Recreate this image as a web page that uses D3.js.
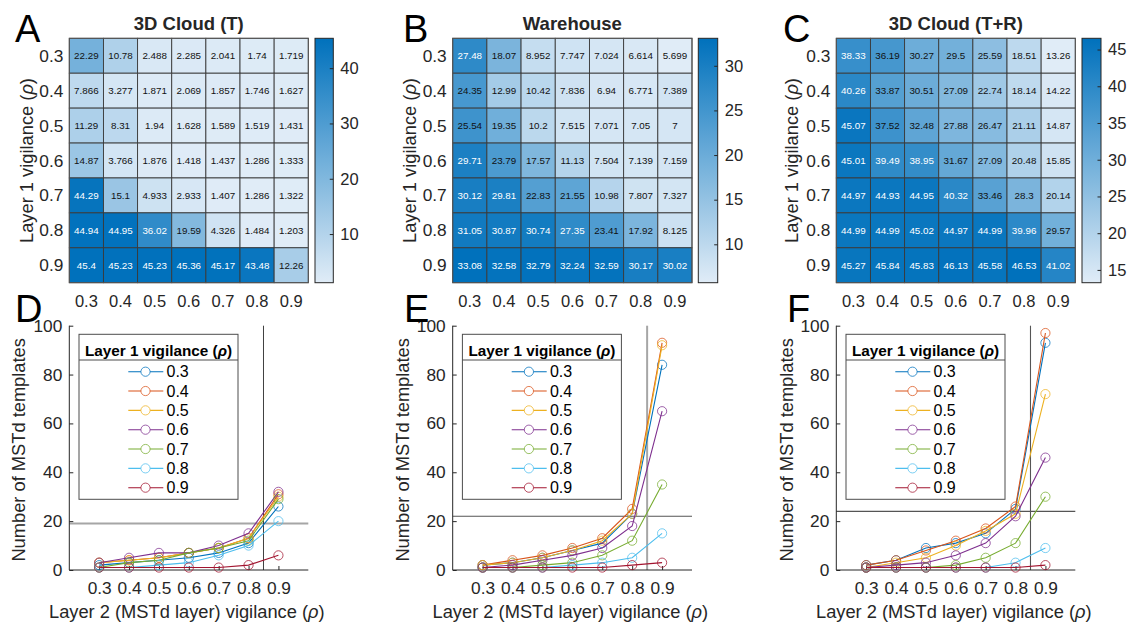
<!DOCTYPE html>
<html>
<head>
<meta charset="utf-8">
<script src="https://cdn.jsdelivr.net/npm/d3@7"></script>
<style>
  html, body { margin: 0; padding: 0; background: #fff; }
  svg { display: block; font-family: "Liberation Sans", Arial, Helvetica, sans-serif; }
</style>
</head>
<body>
<svg id="chart" width="1128" height="623"></svg>
<script>
// ---------------- DATA ----------------
const vigilance = ["0.3", "0.4", "0.5", "0.6", "0.7", "0.8", "0.9"];
const vigilanceNum = [0.3, 0.4, 0.5, 0.6, 0.7, 0.8, 0.9];

const cloudT = [
  [22.29, 10.78, 2.488, 2.285, 2.041, 1.74, 1.719],
  [7.866, 3.277, 1.871, 2.069, 1.857, 1.746, 1.627],
  [11.29, 8.31, 1.94, 1.628, 1.589, 1.519, 1.431],
  [14.87, 3.766, 1.876, 1.418, 1.437, 1.286, 1.333],
  [44.29, 15.1, 4.933, 2.933, 1.407, 1.286, 1.322],
  [44.94, 44.95, 36.02, 19.59, 4.326, 1.484, 1.203],
  [45.4, 45.23, 45.23, 45.36, 45.17, 43.48, 12.26]
];
const warehouse = [
  [27.48, 18.07, 8.952, 7.747, 7.024, 6.614, 5.699],
  [24.35, 12.99, 10.42, 7.836, 6.94, 6.771, 7.389],
  [25.54, 19.35, 10.2, 7.515, 7.071, 7.05, 7],
  [29.71, 23.79, 17.57, 11.13, 7.504, 7.139, 7.159],
  [30.12, 29.81, 22.83, 21.55, 10.98, 7.807, 7.327],
  [31.05, 30.87, 30.74, 27.35, 23.41, 17.92, 8.125],
  [33.08, 32.58, 32.79, 32.24, 32.59, 30.17, 30.02]
];
const cloudTR = [
  [38.33, 36.19, 30.27, 29.5, 25.59, 18.51, 13.26],
  [40.26, 33.87, 30.51, 27.09, 22.74, 18.14, 14.22],
  [45.07, 37.52, 32.48, 27.88, 26.47, 21.11, 14.87],
  [45.01, 39.49, 38.95, 31.67, 27.09, 20.48, 15.85],
  [44.97, 44.93, 44.95, 40.32, 33.46, 28.3, 20.14],
  [44.99, 44.99, 45.02, 44.97, 44.99, 39.96, 29.57],
  [45.27, 45.84, 45.83, 46.13, 45.58, 46.53, 41.02]
];
const cbTicksA = [10, 20, 30, 40];
const cbTicksB = [10, 15, 20, 25, 30];
const cbTicksC = [15, 20, 25, 30, 35, 40, 45];

// Number of MSTd templates; one series per Layer 1 vigilance, x = Layer 2 vigilance
const templatesD = [
  [2, 3, 4, 5, 7, 11, 26],
  [3, 4, 5, 7, 9, 13, 31],
  [3, 4, 5, 7, 9, 13, 30],
  [3, 5, 7, 7, 10, 15, 32],
  [1, 3, 4, 7, 9, 12, 29],
  [1, 1, 2, 3, 6, 10, 20],
  [1, 1, 1, 1, 1, 2, 6]
];
const templatesE = [
  [2, 3, 5, 8, 11, 23, 84],
  [2, 4, 6, 9, 13, 25, 93],
  [2, 3, 5, 8, 12, 23, 92],
  [1, 2, 4, 6, 9, 18, 65],
  [1, 1, 2, 3, 6, 12, 35],
  [1, 1, 1, 2, 3, 5, 15],
  [1, 1, 1, 1, 1, 2, 3]
];
const templatesF = [
  [2, 4, 9, 11, 15, 25, 93],
  [2, 4, 8, 12, 17, 26, 97],
  [1, 3, 5, 10, 16, 23, 72],
  [1, 2, 3, 6, 11, 22, 46],
  [1, 1, 1, 2, 5, 11, 30],
  [1, 1, 1, 1, 1, 3, 9],
  [1, 1, 1, 1, 1, 1, 2]
];
const refLinesD = { x: 0.85, y: 19 };
const refLinesE = { x: 0.85, y: 22 };
const refLinesF = { x: 0.85, y: 24 };
const yTicksLine = [0, 20, 40, 60, 80, 100];
const seriesColors = ["#0072BD", "#D95319", "#EDB120", "#7E2F8E", "#77AC30", "#4DBEEE", "#A2142F"];

// ---------------- DRAW ----------------
const svg = d3.select("#chart");
const FONT = '"Liberation Sans", Arial, Helvetica, sans-serif';
const colLow = d3.rgb(224, 236, 247), colHigh = d3.rgb(0, 113, 188);
const interp = d3.interpolateRgb(colLow, colHigh);

function rhoLabel(sel, pre, bold) {
  sel.append("tspan").text(pre);
  sel.append("tspan").attr("font-style", "italic").text("ρ");
  sel.append("tspan").text(")");
}

function heatmap(opt) {
  const { data, x0, x1, cbx0, cbx1, title, letter, letterX, ylabX, cbTicks } = opt;
  const top = 38.3, bottom = 282.7;
  const g = svg.append("g");
  const flat = data.flat();
  const mn = d3.min(flat), mx = d3.max(flat);
  const color = d3.scaleSequential(interp).domain([mn, mx]);
  const x = d3.scaleBand().domain(vigilance).range([x0, x1]);
  const y = d3.scaleBand().domain(vigilance).range([top, bottom]);
  const fmt = d3.format(".4~g");

  const cells = [];
  data.forEach((row, i) => row.forEach((v, j) => cells.push({ r: vigilance[i], c: vigilance[j], v })));
  g.selectAll("rect.cell").data(cells).join("rect")
    .attr("x", d => x(d.c)).attr("y", d => y(d.r))
    .attr("width", x.bandwidth()).attr("height", y.bandwidth())
    .attr("fill", d => color(d.v))
    .attr("stroke", "#3a3a3a").attr("stroke-width", 0.9);
  g.selectAll("text.cell").data(cells).join("text")
    .attr("x", d => x(d.c) + x.bandwidth() / 2)
    .attr("y", d => y(d.r) + y.bandwidth() / 2)
    .attr("text-anchor", "middle").attr("dominant-baseline", "central")
    .attr("font-size", 9.8)
    .attr("fill", d => ((d.v - mn) / (mx - mn) > 0.74 ? "#ffffff" : "#111111"))
    .text(d => fmt(d.v));
  g.append("rect").attr("x", x0).attr("y", top).attr("width", x1 - x0).attr("height", bottom - top)
    .attr("fill", "none").attr("stroke", "#555").attr("stroke-width", 1);

  // row labels
  g.selectAll("text.rl").data(vigilance).join("text")
    .attr("x", x0 - 6).attr("y", d => y(d) + y.bandwidth() / 2)
    .attr("text-anchor", "end").attr("dominant-baseline", "central")
    .attr("font-size", 17.3).attr("fill", "#262626").text(d => d);
  // column labels
  g.selectAll("text.cl").data(vigilance).join("text")
    .attr("x", d => x(d) + x.bandwidth() / 2).attr("y", 307)
    .attr("text-anchor", "middle").attr("font-size", 16.5).attr("fill", "#262626").text(d => d);

  // title
  g.append("text").attr("x", (x0 + x1) / 2).attr("y", 29.5).attr("text-anchor", "middle")
    .attr("font-size", 18.5).attr("font-weight", "bold").attr("fill", "#262626").text(title);
  // panel letter
  g.append("text").attr("x", letterX).attr("y", 42).attr("font-size", 38).attr("fill", "#000").text(letter);
  // y label
  const yl = g.append("text").attr("transform", `translate(${ylabX},${(top + bottom) / 2}) rotate(-90)`)
    .attr("text-anchor", "middle").attr("dominant-baseline", "central")
    .attr("font-size", 18.3).attr("fill", "#262626");
  rhoLabel(yl, "Layer 1 vigilance (");

  // colorbar
  const gid = "grad" + letter;
  const grad = svg.append("defs").append("linearGradient").attr("id", gid)
    .attr("x1", 0).attr("y1", 1).attr("x2", 0).attr("y2", 0);
  d3.range(0, 1.0001, 0.1).forEach(t => grad.append("stop").attr("offset", t).attr("stop-color", interp(t)));
  const cy = d3.scaleLinear().domain([mn, mx]).range([bottom, top]);
  g.append("rect").attr("x", cbx0).attr("y", top).attr("width", cbx1 - cbx0).attr("height", bottom - top)
    .attr("fill", `url(#${gid})`).attr("stroke", "#262626").attr("stroke-width", 1);
  const cax = g.append("g").attr("transform", `translate(${cbx1},0)`)
    .call(d3.axisRight(cy).tickValues(cbTicks).tickSize(-3.5).tickPadding(7));
  cax.select(".domain").remove();
  cax.selectAll("line").attr("stroke", "#262626");
  cax.selectAll("text").attr("font-size", 16.5).attr("font-family", FONT).attr("fill", "#262626");
}

function linechart(opt) {
  const { series, x0, x1, letter, letterX, ylabX, ref, hStyle, vStyle } = opt;
  const top = 325.7, bottom = 570;
  const g = svg.append("g");
  const x = d3.scaleLinear().domain([0.2, 1.0]).range([x0, x1]);
  const y = d3.scaleLinear().domain([0, 100]).range([bottom, top]);

  // reference lines
  g.append("line").attr("x1", x0).attr("x2", x1).attr("y1", y(ref.y)).attr("y2", y(ref.y))
    .attr("stroke", hStyle.c).attr("stroke-width", hStyle.w);
  g.append("line").attr("x1", x(ref.x)).attr("x2", x(ref.x)).attr("y1", top).attr("y2", bottom)
    .attr("stroke", vStyle.c).attr("stroke-width", vStyle.w);

  // axes (ticks inward, box off)
  const xa = g.append("g").attr("transform", `translate(0,${bottom})`)
    .call(d3.axisBottom(x).tickValues(vigilanceNum).tickSize(-4).tickPadding(12).tickFormat(d3.format(".1f")));
  xa.select(".domain").attr("d", `M${x0},0H${x1}`);
  const ya = g.append("g").attr("transform", `translate(${x0},0)`)
    .call(d3.axisLeft(y).tickValues(yTicksLine).tickSize(-4).tickPadding(7));
  ya.select(".domain").attr("d", `M0,${bottom}V${top}`);
  [xa, ya].forEach(a => {
    a.selectAll("line").attr("stroke", "#262626");
    a.select(".domain").attr("stroke", "#262626");
    a.selectAll("text").attr("font-size", 17.3).attr("font-family", FONT).attr("fill", "#262626");
  });

  // series
  const line = d3.line().x((d, i) => x(vigilanceNum[i])).y(d => y(d));
  series.forEach((s, k) => {
    g.append("path").datum(s).attr("d", line).attr("fill", "none")
      .attr("stroke", seriesColors[k]).attr("stroke-width", 1.1);
    g.selectAll(null).data(s).join("circle")
      .attr("cx", (d, i) => x(vigilanceNum[i])).attr("cy", d => y(d)).attr("r", 4.6)
      .attr("fill", "none").attr("stroke", seriesColors[k]).attr("stroke-opacity", 0.75).attr("stroke-width", 1);
  });

  // legend
  const lx = x0 + 9.7, ly = 334.3, lw = 159, lh = 165;
  const lg = g.append("g");
  lg.append("rect").attr("x", lx).attr("y", ly).attr("width", lw).attr("height", lh)
    .attr("fill", "#fff").attr("stroke", "#4d4d4d").attr("stroke-width", 1);
  lg.append("line").attr("x1", lx).attr("x2", lx + lw).attr("y1", 360).attr("y2", 360)
    .attr("stroke", "#4d4d4d").attr("stroke-width", 1);
  const lt = lg.append("text").attr("x", lx + lw / 2).attr("y", 355.5).attr("text-anchor", "middle")
    .attr("font-size", 15.3).attr("font-weight", "bold").attr("fill", "#000");
  rhoLabel(lt, "Layer 1 vigilance (");
  vigilance.forEach((v, k) => {
    const yy = 371.7 + k * 19.33;
    lg.append("line").attr("x1", lx + 49.3).attr("x2", lx + 84.3).attr("y1", yy).attr("y2", yy)
      .attr("stroke", seriesColors[k]).attr("stroke-width", 1.1);
    lg.append("circle").attr("cx", lx + 66.5).attr("cy", yy).attr("r", 4.6).attr("fill", "#fff")
      .attr("stroke", seriesColors[k]).attr("stroke-opacity", 0.75);
    lg.append("text").attr("x", lx + 87.5).attr("y", yy).attr("dominant-baseline", "central")
      .attr("font-size", 16).attr("fill", "#000").text(v);
  });

  // labels
  const yl = g.append("text").attr("transform", `translate(${ylabX},${(top + bottom) / 2 + 2}) rotate(-90)`)
    .attr("text-anchor", "middle").attr("dominant-baseline", "central")
    .attr("font-size", 18.3).attr("fill", "#262626").text("Number of MSTd templates");
  const xl = g.append("text").attr("x", (x0 + x1) / 2 - 2).attr("y", 618).attr("text-anchor", "middle")
    .attr("font-size", 18.3).attr("fill", "#262626");
  rhoLabel(xl, "Layer 2 (MSTd layer) vigilance (");
  g.append("text").attr("x", letterX).attr("y", 322).attr("font-size", 38).attr("fill", "#000").text(letter);
}

heatmap({ data: cloudT, x0: 69.3, x1: 308.3, cbx0: 315, cbx1: 333.3, title: "3D Cloud (T)", letter: "A", letterX: 15, ylabX: 26, cbTicks: cbTicksA });
heatmap({ data: warehouse, x0: 452.7, x1: 692, cbx0: 698.3, cbx1: 717.7, title: "Warehouse", letter: "B", letterX: 403, ylabX: 409, cbTicks: cbTicksB });
heatmap({ data: cloudTR, x0: 836.3, x1: 1075.3, cbx0: 1082, cbx1: 1101, title: "3D Cloud (T+R)", letter: "C", letterX: 783, ylabX: 791, cbTicks: cbTicksC });

linechart({ series: templatesD, x0: 69.3, x1: 308.3, letter: "D", letterX: 15, ylabX: 18, ref: refLinesD,
  hStyle: { c: "#a6a6a6", w: 2 }, vStyle: { c: "#404040", w: 1 } });
linechart({ series: templatesE, x0: 452.7, x1: 692, letter: "E", letterX: 404, ylabX: 402, ref: refLinesE,
  hStyle: { c: "#555", w: 1.1 }, vStyle: { c: "#a6a6a6", w: 2 } });
linechart({ series: templatesF, x0: 836.3, x1: 1075.3, letter: "F", letterX: 787, ylabX: 786, ref: refLinesF,
  hStyle: { c: "#555", w: 1.1 }, vStyle: { c: "#555", w: 1.1 } });
</script>
</body>
</html>
